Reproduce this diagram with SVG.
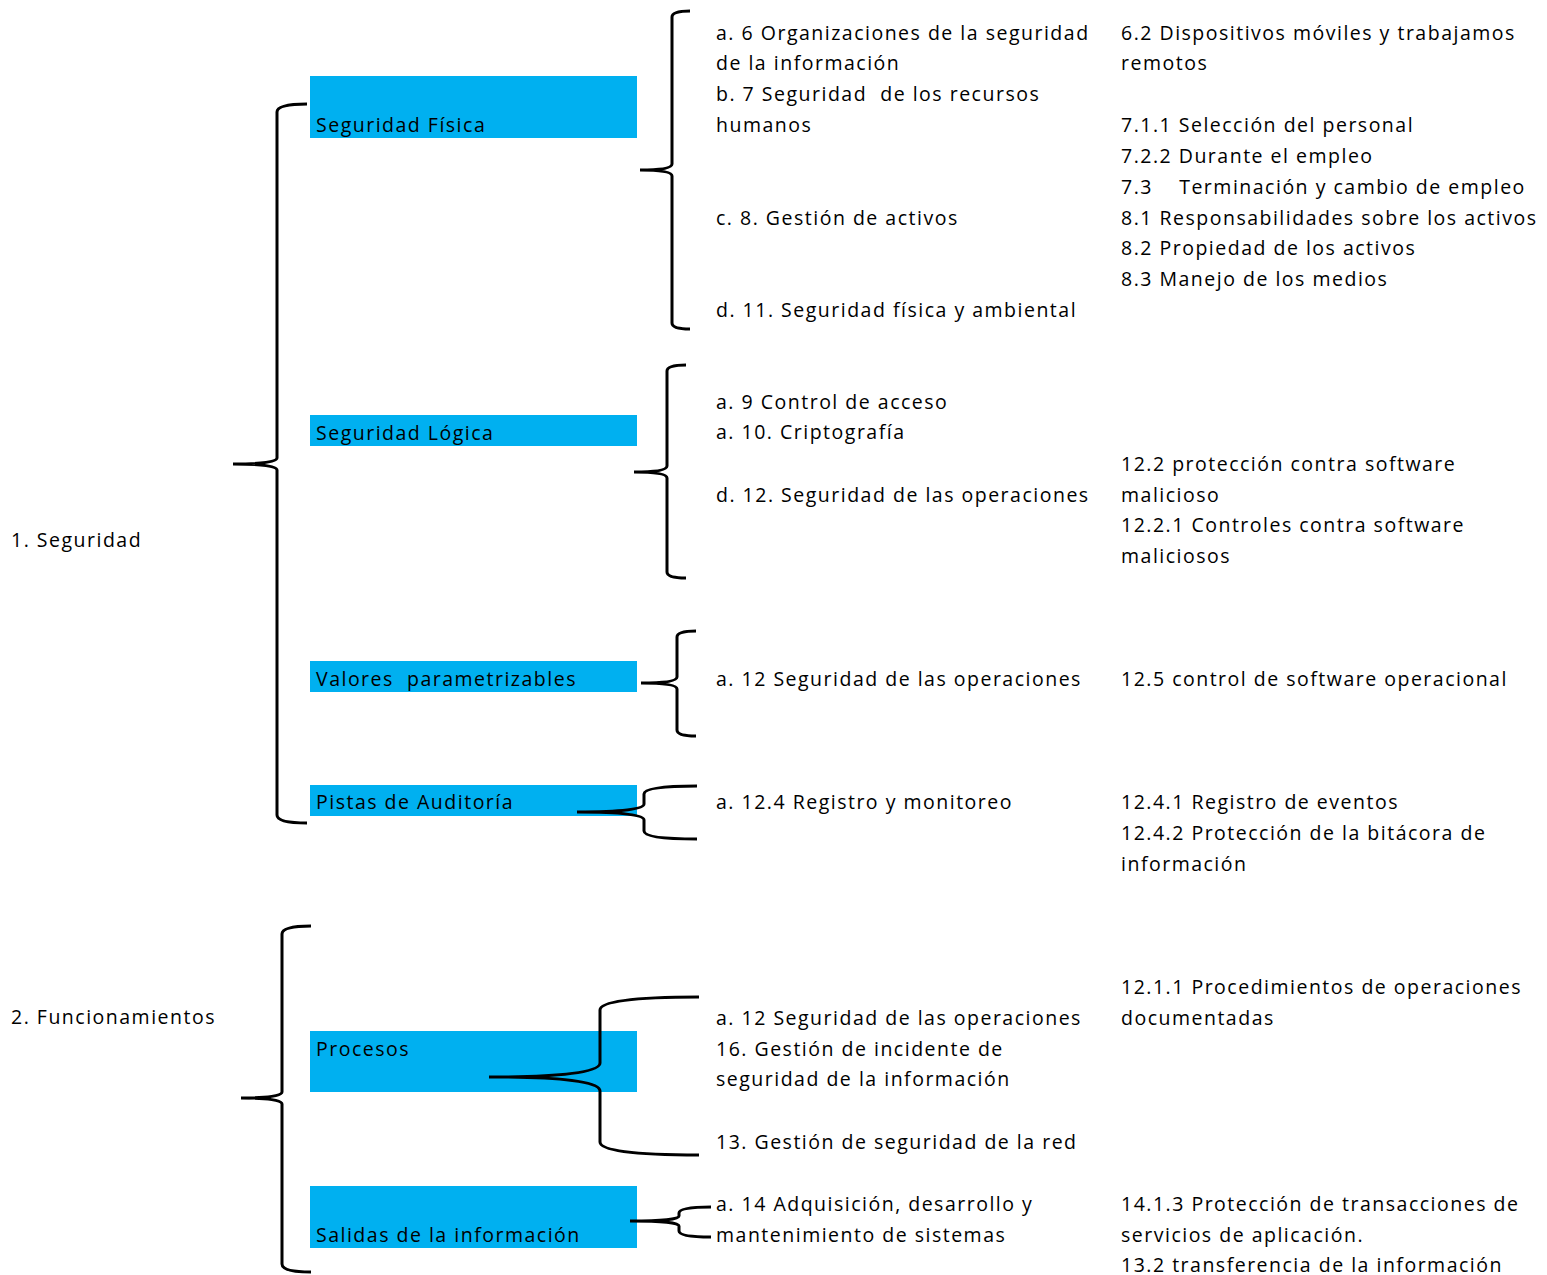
<svg xmlns="http://www.w3.org/2000/svg" width="1547" height="1275" viewBox="0 0 1547 1275">
<style>
.t{font-family:"Open Sans","Noto Sans",sans-serif;font-size:19.5px;letter-spacing:1.5px;fill:#000}
.box{fill:#00B0F0}
.br{fill:none;stroke:#000;stroke-width:3;stroke-linecap:butt}
</style>
<rect width="1547" height="1275" fill="#fff"/>
<g id="n-seguridad"><text class="t" x="11" y="547">1. Seguridad</text></g>
<g id="n-funcionamientos"><text class="t" x="11" y="1024">2. Funcionamientos</text></g>
<g id="n-fisica"><rect class="box" x="310" y="76" width="327" height="62"/><text class="t" x="316" y="132">Seguridad Física</text></g>
<g id="n-logica"><rect class="box" x="310" y="415" width="327" height="31"/><text class="t" x="316" y="440">Seguridad Lógica</text></g>
<g id="n-valores"><rect class="box" x="310" y="661" width="327" height="31"/><text class="t" x="316" y="686" xml:space="preserve">Valores  parametrizables</text></g>
<g id="n-pistas"><rect class="box" x="310" y="785" width="327" height="31"/><text class="t" x="316" y="809">Pistas de Auditoría</text></g>
<g id="n-procesos"><rect class="box" x="310" y="1031" width="327" height="61"/><text class="t" x="316" y="1056">Procesos</text></g>
<g id="n-salidas"><rect class="box" x="310" y="1186" width="327" height="62"/><text class="t" x="316" y="1242">Salidas de la información</text></g>
<g id="col2">
<text class="t" x="716" y="40">a. 6 Organizaciones de la seguridad</text>
<text class="t" x="716" y="70">de la información</text>
<text class="t" x="716" y="101" xml:space="preserve">b. 7 Seguridad  de los recursos</text>
<text class="t" x="716" y="132">humanos</text>
<text class="t" x="716" y="225">c. 8. Gestión de activos</text>
<text class="t" x="716" y="317">d. 11. Seguridad física y ambiental</text>
<text class="t" x="716" y="409">a. 9 Control de acceso</text>
<text class="t" x="716" y="439">a. 10. Criptografía</text>
<text class="t" x="716" y="502">d. 12. Seguridad de las operaciones</text>
<text class="t" x="716" y="686">a. 12 Seguridad de las operaciones</text>
<text class="t" x="716" y="809">a. 12.4 Registro y monitoreo</text>
<text class="t" x="716" y="1025">a. 12 Seguridad de las operaciones</text>
<text class="t" x="716" y="1056">16. Gestión de incidente de</text>
<text class="t" x="716" y="1086">seguridad de la información</text>
<text class="t" x="716" y="1149">13. Gestión de seguridad de la red</text>
<text class="t" x="716" y="1211">a. 14 Adquisición, desarrollo y</text>
<text class="t" x="716" y="1242">mantenimiento de sistemas</text>
</g>
<g id="col3">
<text class="t" x="1121" y="40">6.2 Dispositivos móviles y trabajamos</text>
<text class="t" x="1121" y="70">remotos</text>
<text class="t" x="1121" y="132">7.1.1 Selección del personal</text>
<text class="t" x="1121" y="163">7.2.2 Durante el empleo</text>
<text class="t" x="1121" y="194" xml:space="preserve">7.3    Terminación y cambio de empleo</text>
<text class="t" x="1121" y="225">8.1 Responsabilidades sobre los activos</text>
<text class="t" x="1121" y="255">8.2 Propiedad de los activos</text>
<text class="t" x="1121" y="286">8.3 Manejo de los medios</text>
<text class="t" x="1121" y="471">12.2 protección contra software</text>
<text class="t" x="1121" y="502">malicioso</text>
<text class="t" x="1121" y="532">12.2.1 Controles contra software</text>
<text class="t" x="1121" y="563">maliciosos</text>
<text class="t" x="1121" y="686">12.5 control de software operacional</text>
<text class="t" x="1121" y="809">12.4.1 Registro de eventos</text>
<text class="t" x="1121" y="840">12.4.2 Protección de la bitácora de</text>
<text class="t" x="1121" y="871">información</text>
<text class="t" x="1121" y="994">12.1.1 Procedimientos de operaciones</text>
<text class="t" x="1121" y="1025">documentadas</text>
<text class="t" x="1121" y="1211">14.1.3 Protección de transacciones de</text>
<text class="t" x="1121" y="1242">servicios de aplicación.</text>
<text class="t" x="1121" y="1272">13.2 transferencia de la información</text>
</g>
<g id="connectors">
<path class="br" d="M307,104 Q277,104 277,112 L277,458 Q277,464 233,464 Q277,464 277,470 L277,815 Q277,823 307,823"/>
<path class="br" d="M311,926 Q282,926 282,934 L282,1092 Q282,1098 241,1098 Q282,1098 282,1104 L282,1264 Q282,1272 311,1272"/>
<path class="br" d="M690,11 Q672,11 672,17 L672,164 Q672,170 640,170 Q672,170 672,176 L672,323 Q672,329 690,329"/>
<path class="br" d="M686,365 Q667,365 667,371 L667,466 Q667,472 634,472 Q667,472 667,478 L667,572 Q667,578 686,578"/>
<path class="br" d="M696,631 Q677,631 677,637 L677,677 Q677,683 641,683 Q677,683 677,689 L677,730 Q677,736 696,736"/>
<path class="br" d="M697,786 Q644,786 644,794 L644,804 Q644,812 577,812 Q644,812 644,820 L644,831 Q644,839 697,839"/>
<path class="br" d="M699,997 Q600,997 600,1010 L600,1063 Q600,1077 489,1077 Q600,1077 600,1091 L600,1142 Q600,1155 699,1155"/>
<path class="br" d="M711,1207 Q679,1207 679,1213 L679,1216 Q679,1221 630,1221 Q679,1221 679,1226 L679,1231 Q679,1237 711,1237"/>
</g>
</svg>
